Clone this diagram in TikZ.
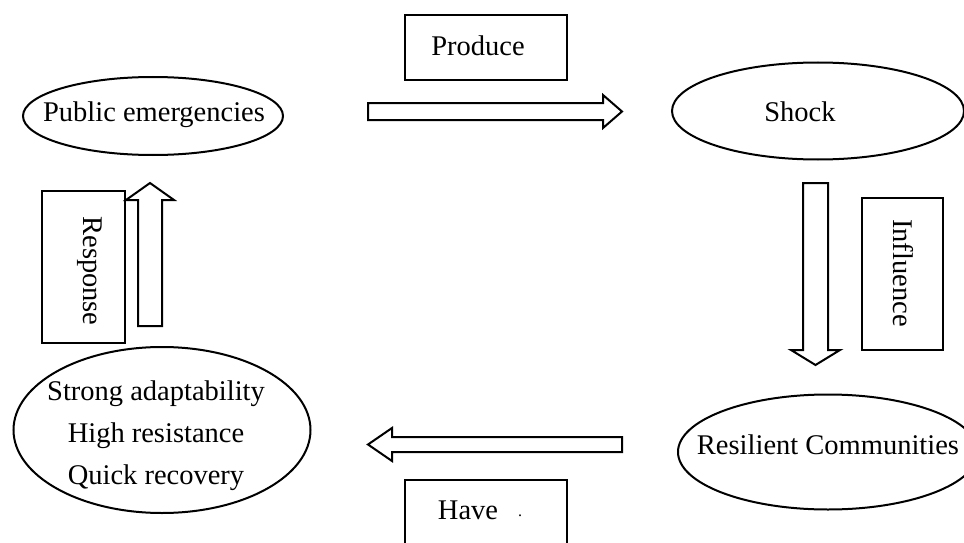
\documentclass[tikz,border=0pt]{standalone}
\usepackage{fontspec}
\setmainfont{Liberation Serif}
\usetikzlibrary{shapes.geometric}
\begin{document}
\begin{tikzpicture}[x=1pt,y=-1pt, line width=2pt,
  oval/.style={draw, ellipse, inner sep=0pt},
  lbl/.style={font=\fontsize{28.5}{42}\selectfont, inner sep=0pt, align=center},
  tagbox/.style={draw, rectangle, inner sep=0pt},
  blockarr/.style={draw, line join=miter, fill=white}]
\clip (0,0) rectangle (964,543);
\fill[white] (0,0) rectangle (964,543);

% ellipses
\node[oval, minimum width=260, minimum height=78] (pe) at (153,116) {};
\node[lbl] (tpe) at (154,115) {Public emergencies};
\node[oval, minimum width=292, minimum height=97] (sh) at (818,111) {};
\node[lbl] (tsh) at (800,112) {Shock};
\node[oval, minimum width=300, minimum height=115] (rc) at (828,452) {};
\node[lbl] (trc) at (828,445) {Resilient Communities};
\node[oval, minimum width=297, minimum height=166] (sa) at (162,430) {};
\node[lbl] (tsa) at (156,436) {Strong adaptability\\High resistance\\Quick recovery};

% label boxes
\node[tagbox, minimum width=162, minimum height=65] (bp) at (486,47.5) {};
\node[lbl] (tp) at (478,46) {Produce};
\node[tagbox, minimum width=81, minimum height=152] (bi) at (902.5,274) {};
\node[lbl, rotate=-90] (ti) at (903,273) {Influence};
\node[tagbox, minimum width=83, minimum height=152] (br) at (83.5,267) {};
\node[lbl, rotate=-90] (tr) at (90,271) {Response};
\node[tagbox, minimum width=162, minimum height=80] (bh) at (486,520) {};
\node[lbl] (th) at (468,510) {Have};
\node[inner sep=0pt, font=\fontsize{16}{18}\selectfont] (td) at (520,516) {.};

% block arrows
\draw[blockarr] (368,103) -- (603,103) -- (603,95) -- (622,111.5) -- (603,128) -- (603,120) -- (368,120) -- cycle;
\draw[blockarr] (803,183) -- (828,183) -- (828,350) -- (840,350) -- (815.5,365) -- (791,350) -- (803,350) -- cycle;
\draw[blockarr] (138,326) -- (138,200) -- (126,200) -- (150,183) -- (174,200) -- (162,200) -- (162,326) -- cycle;
\draw[blockarr] (622,437) -- (392,437) -- (392,428) -- (368,444.5) -- (392,461) -- (392,452) -- (622,452) -- cycle;
\end{tikzpicture}
\end{document}
